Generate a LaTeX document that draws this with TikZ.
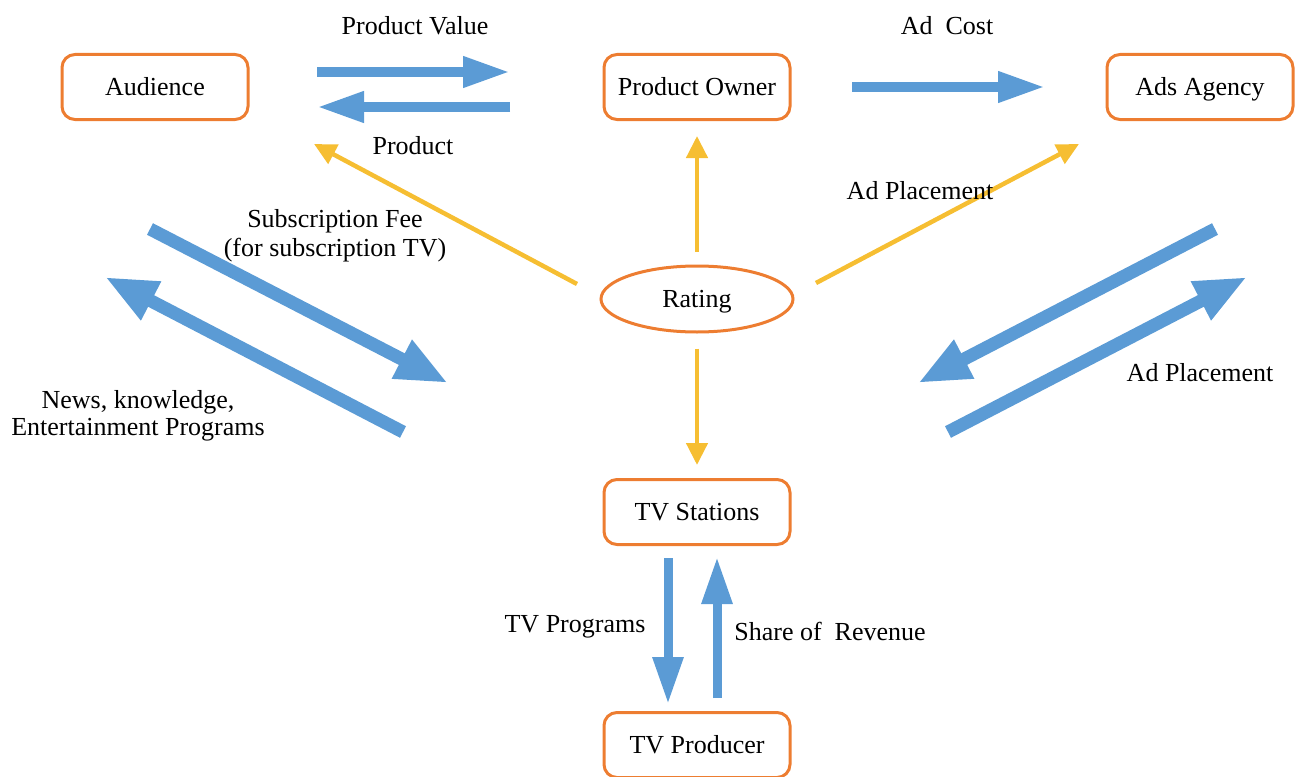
\documentclass[tikz,border=0pt]{standalone}
\usepackage{fontspec}
\setmainfont{Liberation Serif}
\usetikzlibrary{arrows.meta,shapes.geometric}
\definecolor{boxorange}{RGB}{237,125,49}
\definecolor{flowblue}{RGB}{91,155,213}
\definecolor{rateyellow}{RGB}{246,190,50}

\begin{document}
\begin{tikzpicture}[x=1pt,y=-1pt,
	every node/.style={font=\fontsize{26}{29}\selectfont},
	party/.style={draw=boxorange, line width=3pt, rounded corners=13pt, minimum width=186pt, minimum height=65pt, inner sep=0pt, text height=17pt, text depth=0pt},
	rate/.style={ellipse, draw=boxorange, line width=3pt, minimum width=192pt, minimum height=66pt, inner sep=0pt, text height=17pt, text depth=0pt},
	flow/.style={draw=flowblue, line width=10pt, -{Triangle[length=47pt,width=29pt]}},
	bigflow/.style={draw=flowblue, line width=13pt, -{Triangle[length=52pt,width=40pt]}},
	ratelink/.style={draw=rateyellow, line width=4.5pt, -{Triangle[length=22pt,width=21pt]}}]
	\useasboundingbox (0,0) rectangle (1300,776);

	\node (aud)		at ( 155,  87)	[party]	{Audience};
	\node (owner)	at ( 697,  87)	[party]	{Product Owner};
	\node (agency)	at (1200,  87)	[party]	{Ads Agency};
	\node (rating)	at ( 697, 299)	[rate]	{Rating};
	\node (station)	at ( 697, 512)	[party]	{TV Stations};
	\node (producer)	at ( 697, 745)	[party]	{TV Producer};

	\coordinate (pv1)	at ( 317,  72);
	\coordinate (pv2)	at ( 510,  72);
	\coordinate (pr1)	at ( 510, 107);
	\coordinate (pr2)	at ( 317, 107);
	\coordinate (ac1)	at ( 852,  87);
	\coordinate (ac2)	at (1045,  87);
	\coordinate (sf1)	at ( 150, 229);
	\coordinate (sf2)	at ( 448, 383);
	\coordinate (nw1)	at ( 403, 432);
	\coordinate (nw2)	at ( 105, 277);
	\coordinate (ad1)	at (1215, 229);
	\coordinate (ad2)	at ( 918, 383);
	\coordinate (ad3)	at ( 948, 432);
	\coordinate (ad4)	at (1247, 277);
	\coordinate (tp1)	at ( 668, 558);
	\coordinate (tp2)	at ( 668, 704);
	\coordinate (sr1)	at ( 717, 698);
	\coordinate (sr2)	at ( 717, 557);
	\coordinate (ra1)	at ( 577, 284);
	\coordinate (ra2)	at ( 314, 144);
	\coordinate (rb1)	at ( 816, 283);
	\coordinate (rb2)	at (1079, 144);

	\draw[flow]	(pv1) -- (pv2);
	\draw[flow]	(pr1) -- (pr2);
	\draw[flow]	(ac1) -- (ac2);
	\draw[bigflow]	(sf1) -- (sf2);
	\draw[bigflow]	(nw1) -- (nw2);
	\draw[bigflow]	(ad1) -- (ad2);
	\draw[bigflow]	(ad3) -- (ad4);
	\draw[flow, line width=9pt]	(tp1) -- (tp2);
	\draw[flow, line width=9pt]	(sr1) -- (sr2);
	\draw[ratelink]	(ra1) -- (ra2);
	\draw[ratelink]	(rb1) -- (rb2);
	\draw[ratelink, shorten <=13pt, shorten >=15pt]	(rating) -- (owner);
	\draw[ratelink, shorten <=15pt, shorten >=13pt]	(rating) -- (station);

	\node (lpv)	at ( 415,  26)	{Product Value};
	\node (lpr)	at ( 413, 146)	{Product};
	\node (lac)	at ( 947,  26)	{Ad~ Cost};
	\node (lap)	at ( 920, 191)	{Ad Placement};
	\node (lsf)	at ( 335, 236)	[align=center]	{Subscription Fee\\(for subscription TV)};
	\node (lnw)	at ( 138, 416)	[align=center, font=\fontsize{26}{27}\selectfont]	{News, knowledge,\\Entertainment Programs};
	\node (lad)	at (1200, 373)	{Ad Placement};
	\node (ltp)	at ( 575, 627)	{TV Programs};
	\node (lsr)	at ( 830, 631)	{Share of~ Revenue};
\end{tikzpicture}
\end{document}
